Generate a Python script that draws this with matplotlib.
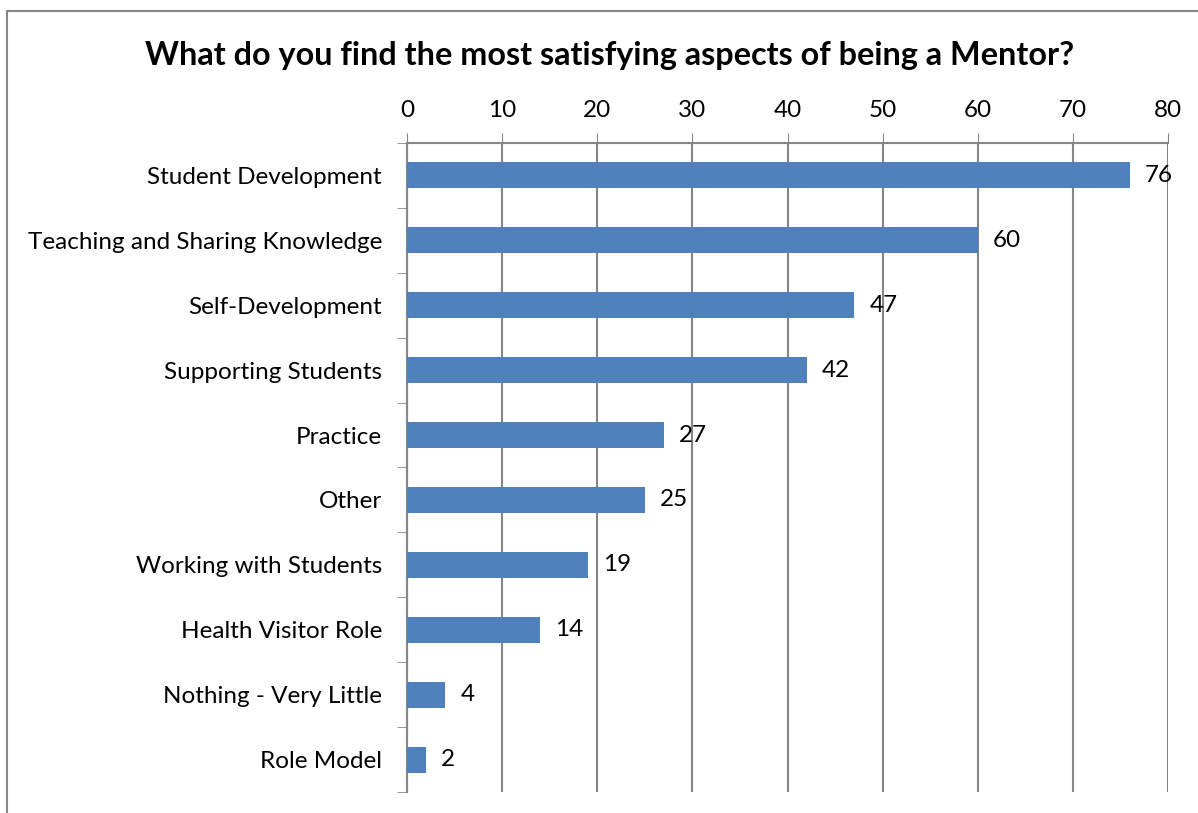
import matplotlib.pyplot as plt
from matplotlib.patches import Rectangle
import numpy as np

categories = ['Student Development', 'Teaching and Sharing Knowledge', 'Self-Development',
              'Supporting Students', 'Practice', 'Other', 'Working with Students',
              'Health Visitor Role', 'Nothing - Very Little', 'Role Model']
counts = [76, 60, 47, 42, 27, 25, 19, 14, 4, 2]
xticks = [0, 10, 20, 30, 40, 50, 60, 70, 80]

plt.rcParams['font.family'] = ['Lato', 'DejaVu Sans']
grey = '#868686'

fig = plt.figure(figsize=(11.98, 8.13), dpi=100)
ax = fig.add_axes([407/1198, 1 - 792/813, (1168 - 407)/1198, (792 - 143)/813])

# outer chart frame (cropped at right and bottom)
fig.patches.append(Rectangle((7/1198, -0.1), 1.2, 1 - 11/813 + 0.1, transform=fig.transFigure,
                             fill=False, edgecolor=grey, linewidth=1.5))

y = np.arange(len(categories))
ax.barh(y, counts, height=0.4, color='#4F81BD', zorder=3)
for yi, v in zip(y, counts):
    ax.text(v + 1.6, yi, str(v), va='center', ha='left', fontsize=17.5, zorder=4)

ax.set_xlim(0, 80)
ax.set_ylim(len(categories) - 0.5, -0.5)
ax.set_xticks(xticks)
ax.xaxis.tick_top()
ax.tick_params(axis='x', direction='out', length=7, color=grey, labelsize=17.5, pad=9)
ax.set_yticks(y)
ax.set_yticklabels(categories)
ax.set_yticks(np.arange(-0.5, len(categories)), minor=True)
ax.tick_params(axis='y', which='major', length=0, labelsize=17.5, pad=18)
ax.tick_params(axis='y', which='minor', length=7, color=grey)
ax.grid(axis='x', color=grey, linewidth=1.5, zorder=0)

for s in ['right', 'bottom']:
    ax.spines[s].set_visible(False)
for s in ['left', 'top']:
    ax.spines[s].set_color(grey)
    ax.spines[s].set_linewidth(1.5)

fig.text(0.5 * (148 + 1072) / 1198, 1 - 55/813, 'What do you find the most satisfying aspects of being a Mentor?',
         ha='center', va='center', fontsize=23.3, fontweight='bold')

fig.savefig('out.png', dpi=100)
